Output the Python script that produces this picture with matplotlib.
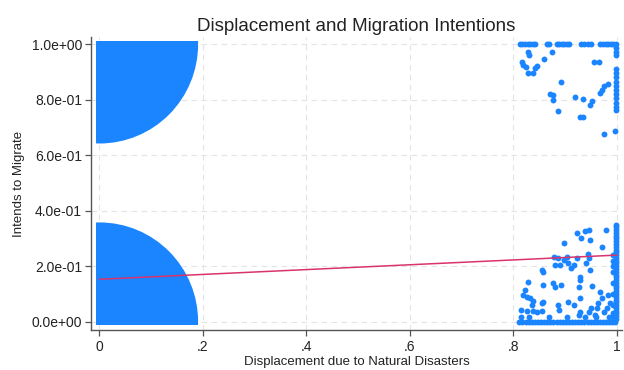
import matplotlib
matplotlib.use("Agg")
import matplotlib.pyplot as plt
from matplotlib.patches import Ellipse, Rectangle

plt.rcParams["font.family"] = ["Liberation Sans", "DejaVu Sans"]

BLUE = "#1a85ff"
RED = "#d9336c"

# dense jitter clouds at (0, 0) and (0, 1): quarter-ellipse extents in data units
cloud_rx = 0.185
cloud_ry = 0.347
cloud_centers = [(0.0, 0.0), (0.0, 1.0)]

# displaced & intends to migrate (upper right)
ne_x = [0.813, 0.818, 0.823, 0.828, 0.833, 0.838, 0.842, 0.866, 0.870, 0.884,
        0.889, 0.894, 0.899, 0.904, 0.908, 0.932, 0.938, 0.945, 0.951, 0.969,
        0.974, 0.979, 0.984, 0.989, 0.994, 0.999,
        0.999, 0.999, 0.999, 0.999, 0.999, 0.999, 0.999, 0.999, 0.999, 0.999,
        0.999, 0.999, 0.999, 0.999,
        0.829, 0.831, 0.875, 0.817, 0.820, 0.825, 0.828, 0.839, 0.842, 0.847,
        0.860, 0.956, 0.967, 0.893, 0.984, 0.976, 0.971, 0.969, 0.871, 0.878,
        0.877, 0.920, 0.936, 0.952, 0.949, 0.887, 0.929, 0.935, 0.976, 0.997]
ne_y = [1.0, 1.0, 1.0, 1.0, 1.0, 1.0, 1.0, 1.0, 1.0, 1.0,
        1.0, 1.0, 1.0, 1.0, 1.0, 1.0, 1.0, 1.0, 1.0, 1.0,
        1.0, 1.0, 1.0, 1.0, 1.0, 1.0,
        0.985, 0.973, 0.961, 0.909, 0.895, 0.881, 0.865, 0.851, 0.835, 0.821,
        0.805, 0.789, 0.775, 0.763,
        0.973, 0.961, 0.973, 0.937, 0.925, 0.917, 0.895, 0.895, 0.913, 0.921,
        0.947, 0.937, 0.937, 0.865, 0.857, 0.849, 0.835, 0.826, 0.821, 0.817,
        0.799, 0.809, 0.803, 0.795, 0.781, 0.759, 0.737, 0.737, 0.676, 0.688]

# displaced & no intention to migrate (lower right)
se_x = [0.812, 0.818, 0.824, 0.830, 0.836, 0.842, 0.848, 0.854, 0.860, 0.866,
        0.872, 0.878, 0.884, 0.890, 0.896, 0.902, 0.908, 0.914, 0.920, 0.926,
        0.932, 0.938, 0.944, 0.950, 0.956, 0.962, 0.968, 0.974, 0.980, 0.986,
        0.992, 0.998,
        0.815, 0.830, 0.870, 0.905, 0.940, 0.960, 0.985, 0.993,
        0.999, 0.999, 0.999, 0.999, 0.999, 0.999, 0.999, 0.999, 0.999, 0.999,
        0.999, 0.999, 0.999, 0.999, 0.999, 0.999, 0.999, 0.999, 0.999, 0.999,
        0.999, 0.999, 0.999, 0.999, 0.999, 0.999, 0.999, 0.999, 0.999, 0.999,
        0.999, 0.999, 0.999, 0.999, 0.999,
        0.993, 0.993, 0.993, 0.993, 0.993, 0.993, 0.993, 0.993,
        0.924, 0.931, 0.939, 0.947, 0.949, 0.980, 0.898, 0.971, 0.879, 0.886,
        0.881, 0.891, 0.898, 0.904, 0.907, 0.911, 0.917, 0.924, 0.944, 0.946,
        0.941, 0.855, 0.858, 0.929, 0.949, 0.858, 0.878, 0.881, 0.892, 0.928,
        0.952, 0.929, 0.968, 0.984, 0.971, 0.829, 0.823, 0.820, 0.826, 0.833,
        0.839, 0.855, 0.858, 0.836, 0.815, 0.826, 0.839, 0.846, 0.855, 0.887,
        0.889, 0.907, 0.917, 0.929, 0.929, 0.928, 0.950, 0.947, 0.962, 0.965,
        0.958, 0.975, 0.981, 0.987]
se_y = [0.0, 0.0, 0.0, 0.0, 0.0, 0.0, 0.0, 0.0, 0.0, 0.0,
        0.0, 0.0, 0.0, 0.0, 0.0, 0.0, 0.0, 0.0, 0.0, 0.0,
        0.0, 0.0, 0.0, 0.0, 0.0, 0.0, 0.0, 0.0, 0.0, 0.0,
        0.0, 0.0,
        0.018, 0.018, 0.018, 0.018, 0.018, 0.018, 0.018, 0.018,
        0.010, 0.020, 0.030, 0.040, 0.050, 0.060, 0.070, 0.080, 0.090, 0.100,
        0.110, 0.120, 0.130, 0.140, 0.150, 0.160, 0.170, 0.180, 0.190, 0.200,
        0.210, 0.220, 0.230, 0.240, 0.250, 0.260, 0.270, 0.280, 0.290, 0.300,
        0.310, 0.320, 0.330, 0.340, 0.350,
        0.030, 0.060, 0.100, 0.140, 0.180, 0.200, 0.220, 0.240,
        0.318, 0.300, 0.327, 0.330, 0.294, 0.330, 0.282, 0.270, 0.234, 0.228,
        0.204, 0.204, 0.222, 0.234, 0.210, 0.192, 0.204, 0.231, 0.243, 0.228,
        0.210, 0.186, 0.180, 0.162, 0.186, 0.132, 0.138, 0.126, 0.132, 0.126,
        0.130, 0.150, 0.108, 0.096, 0.084, 0.144, 0.114, 0.096, 0.090, 0.084,
        0.075, 0.066, 0.072, 0.060, 0.042, 0.038, 0.038, 0.034, 0.038, 0.060,
        0.042, 0.070, 0.060, 0.084, 0.036, 0.024, 0.048, 0.034, 0.048, 0.066,
        0.024, 0.036, 0.050, 0.066]

# linear fit of migration intention on displacement
fit_intercept = 0.153
fit_slope = 0.087
fit_x = [0.0, 1.0]

xticks = [0, 0.2, 0.4, 0.6, 0.8, 1.0]
xtick_labels = ["0", ".2", ".4", ".6", ".8", "1"]
yticks = [0, 0.2, 0.4, 0.6, 0.8, 1.0]
ytick_labels = ["0.0e+00", "2.0e-01", "4.0e-01", "6.0e-01", "8.0e-01", "1.0e+00"]

fig = plt.figure(figsize=(6.24, 3.70), dpi=100)
ax = fig.add_axes([0.1458, 0.108, 0.851, 0.792])
ax.set_xlim(-0.0164, 1.0106)
ax.set_ylim(-0.030, 1.026)

ax.grid(True, color="#e4e4e4", linestyle=(0, (5, 4)), linewidth=0.8, zorder=0)
ax.set_axisbelow(True)

# marker radius in data units, so the clouds line up with the dot edges
pad_x = 0.0058
pad_y = 0.0108
for cx, cy in cloud_centers:
    clip_y0 = cy - pad_y if cy == 0 else cy - 0.5
    clip = Rectangle((cx - pad_x, clip_y0), 0.5, 0.5 + pad_y,
                     transform=ax.transData)
    cloud = Ellipse((cx, cy), 2 * cloud_rx, 2 * cloud_ry,
                    facecolor=BLUE, edgecolor=BLUE, linewidth=4.3, zorder=2)
    ax.add_patch(cloud)
    cloud.set_clip_path(clip)

ax.scatter(ne_x, ne_y, s=18, color=BLUE, linewidths=0, zorder=2)
ax.scatter(se_x, se_y, s=18, color=BLUE, linewidths=0, zorder=2)

fit_y = [fit_intercept + fit_slope * v for v in fit_x]
ax.plot(fit_x, fit_y, color=RED, linewidth=1.1, zorder=3)

ax.set_xticks(xticks)
ax.set_xticklabels(xtick_labels)
ax.set_yticks(yticks)
ax.set_yticklabels(ytick_labels)
ax.tick_params(direction="out", length=4.5, width=0.9, color="#555555",
               labelsize=10, labelcolor="#222222", pad=2)
ax.tick_params(axis="x", pad=3)

for side in ["top", "right"]:
    ax.spines[side].set_visible(False)
for side in ["left", "bottom"]:
    ax.spines[side].set_color("#555555")
    ax.spines[side].set_linewidth(1.0)

ax.set_title("Displacement and Migration Intentions", fontsize=13.5,
             color="#222222", pad=4)
ax.set_xlabel("Displacement due to Natural Disasters", fontsize=9.5,
              color="#222222", labelpad=1)
ax.set_ylabel("Intends to Migrate", fontsize=9.5, color="#222222", labelpad=5)

fig.savefig("out.png", dpi=100)
